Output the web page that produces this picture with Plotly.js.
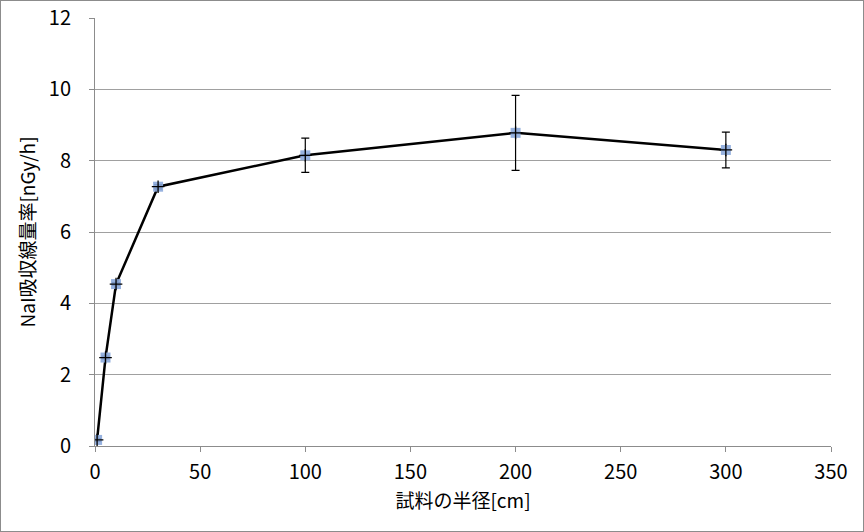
<!DOCTYPE html>
<html><head><meta charset="utf-8">
<script src="https://cdn.plot.ly/plotly-3.0.1.min.js"></script>
<style>html,body{margin:0;padding:0;background:#fff}#c{width:862px;height:530px;border:1px solid #8c8c8c}</style>
</head><body><div id="c"></div>
<script>
const radius = [1, 5, 10, 30, 100, 200, 300];
const doseRate = [0.17, 2.48, 4.54, 7.27, 8.15, 8.78, 8.30];
const errors = [0.04, 0.04, 0.04, 0.06, 0.48, 1.05, 0.50];
const xTitle = '試料の半径[cm]';
const yTitle = 'NaI吸収線量率[nGy/h]';
const font = '"Noto Sans CJK JP", "Noto Sans", sans-serif';

const traces = [
  {x: radius, y: doseRate, mode: 'lines', line: {color: '#000', width: 2.5},
   error_y: {type: 'data', array: errors, visible: true, color: '#000', thickness: 1.2, width: 4},
   hoverinfo: 'skip'},
  {x: radius, y: doseRate, mode: 'markers',
   marker: {symbol: 'square', size: 10, color: 'rgba(140,170,220,0.9)', line: {width: 0}}},
  {x: radius, y: doseRate, mode: 'markers',
   marker: {symbol: 'cross-thin', size: 9, color: '#000', line: {width: 1.3, color: '#000'}}}
];

const layout = {
  width: 862, height: 530,
  margin: {l: 94, r: 32, t: 17, b: 85},
  showlegend: false,
  paper_bgcolor: '#fff', plot_bgcolor: '#fff',
  font: {family: font, color: '#000'},
  xaxis: {range: [0, 350], dtick: 50, tick0: 0, showgrid: false, zeroline: false,
    showline: true, linecolor: '#8c8c8c', linewidth: 1,
    ticks: 'outside', ticklen: 5, tickcolor: '#8c8c8c',
    tickfont: {size: 20, family: font}, ticklabelstandoff: 3,
    title: {text: xTitle, font: {size: 19, family: font}, standoff: 10}},
  yaxis: {range: [0, 12], dtick: 2, tick0: 0, showgrid: true, gridcolor: '#a0a0a0', gridwidth: 1,
    zeroline: false, showline: true, linecolor: '#8c8c8c', linewidth: 1,
    ticks: 'outside', ticklen: 5, tickcolor: '#8c8c8c',
    tickfont: {size: 20, family: font}, ticklabelstandoff: 14,
    title: {text: yTitle, font: {size: 19, family: font}, standoff: 8}}
};
Plotly.newPlot('c', traces, layout, {displayModeBar: false, staticPlot: true});
</script></body></html>
